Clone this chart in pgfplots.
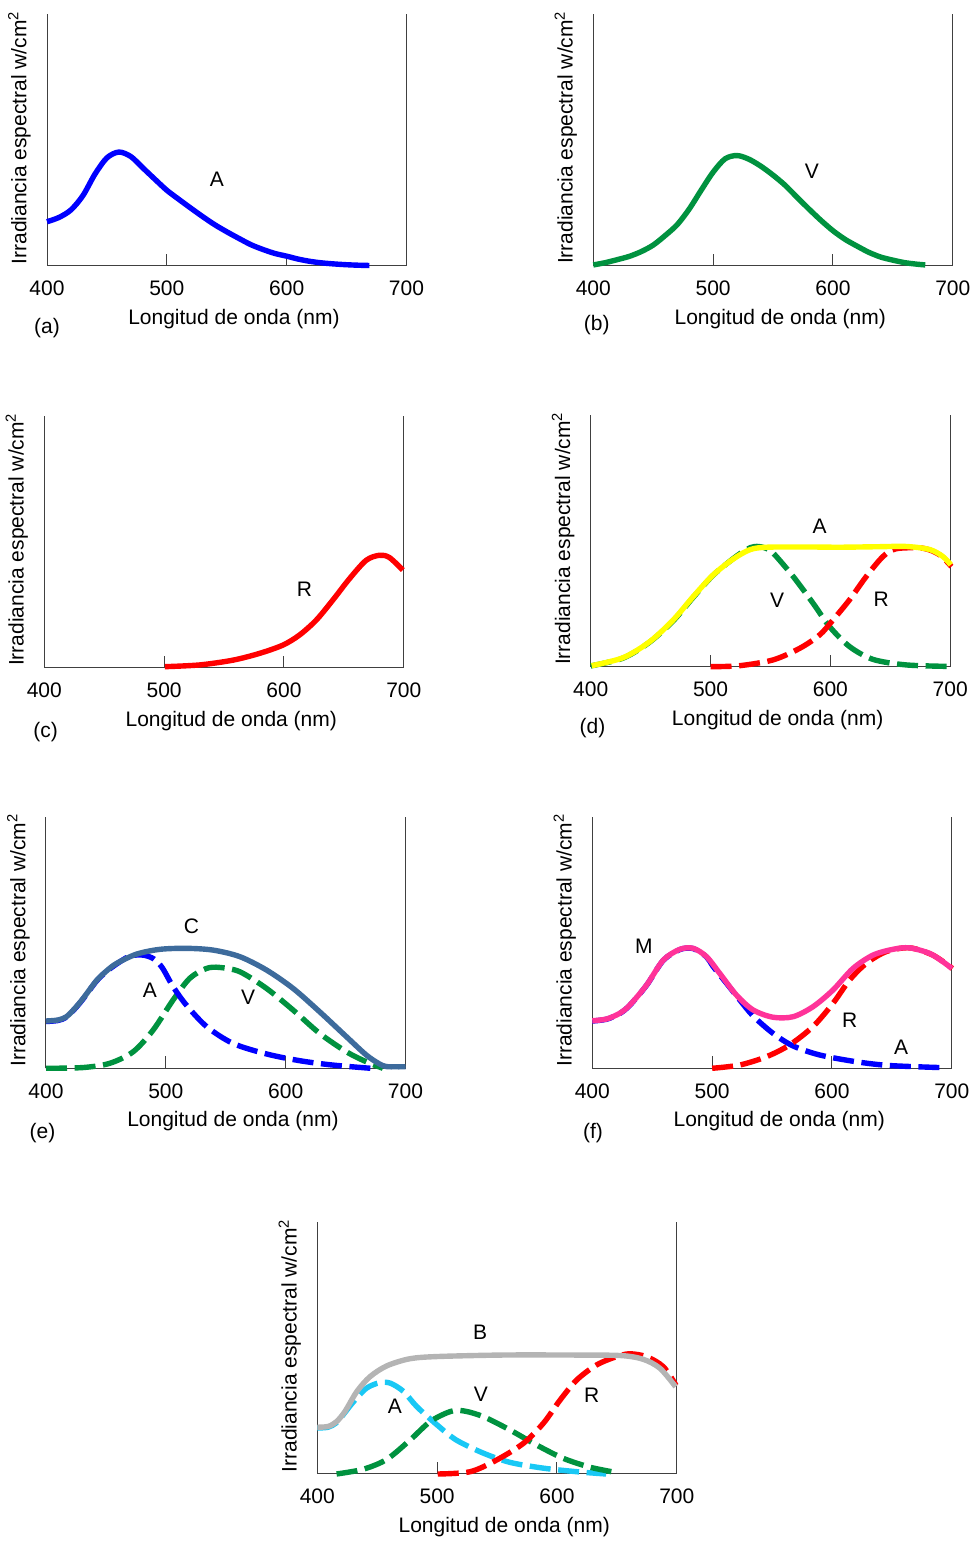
\documentclass[border=0pt]{standalone}
\usepackage{fontspec}
\setmainfont{Liberation Sans}
\usepackage{pgfplots}
\pgfplotsset{compat=1.18}
\definecolor{cblue}{RGB}{0,0,255}
\definecolor{cgreen}{RGB}{0,146,63}
\definecolor{cred}{RGB}{255,0,0}
\definecolor{cyellow}{RGB}{255,255,0}
\definecolor{csteel}{RGB}{61,107,156}
\definecolor{cpink}{RGB}{255,51,153}
\definecolor{cgray}{RGB}{180,180,180}
\definecolor{ccyan}{RGB}{25,200,245}
\pgfplotsset{
  panel/.style={
    scale only axis, width=179.75pt, height=125.75pt,
    xmin=400, xmax=700, ymin=0, ymax=100,
    axis x line*=bottom, axis y line*=box,
    axis line style={line width=0.5pt, black!75},
    xtick={400,500,600,700}, xticklabels={400,500,600,700},
    /pgf/number format/assume math mode=true,
    ytick=\empty,
    tick align=inside, major tick length=6pt,
    tick style={line width=0.5pt, black!75},
    xticklabel style={anchor=center, yshift=-11.25pt},
    xlabel={Longitud de onda (nm)},
    ylabel={Irradiancia espectral w/cm\textsuperscript{2}},
    xlabel style={at={(axis description cs:0.52,-0.2107)}, anchor=center},
    ylabel style={at={(axis description cs:-0.0765,0.51)}, anchor=center},
    clip=false,
    anchor=south west,
  },
  curve/.style={smooth, line width=2.7pt, no markers},
  dcurve/.style={smooth, line width=2.7pt, no markers, dash pattern=on 10.5pt off 3.8pt},
}
\begin{document}
\fontsize{10.5}{12.6}\selectfont
\begin{tikzpicture}
\path[use as bounding box] (0,0) rectangle (489pt,771pt);

% (a)
\begin{axis}[panel, at={(23.5pt,638pt)}]
\addplot[curve, cblue] coordinates {(400,17.6) (410,19.3) (420,22.3) (430,28) (440,36.5) (450,43) (460,45.3) (470,43.5) (480,39) (490,34.5) (500,30.1) (510,26.5) (520,23) (530,19.6) (540,16.4) (550,13.6) (560,11) (570,8.5) (580,6.6) (590,5.0) (600,3.9) (610,2.7) (620,1.8) (630,1.2) (640,0.8) (650,0.5) (660,0.3) (669,0.2)};
\node at (axis cs:541.8,34.3) {A};
\node at (axis description cs:0,-0.2465) {(a)};
\end{axis}

% (b)
\begin{axis}[panel, at={(296.65pt,638.15pt)}]
\addplot[curve, cgreen] coordinates {(400,0.3) (410,1.2) (420,2.4) (430,3.7) (440,5.6) (450,8.2) (460,12) (470,16.3) (480,22.5) (490,30) (500,37.2) (510,42.5) (520,43.8) (530,42.3) (540,39.5) (550,36) (560,32) (570,27.2) (580,22.5) (590,18) (600,13.9) (610,10.5) (620,7.8) (630,5.3) (640,3.4) (650,2.2) (660,1.2) (670,0.6) (677,0.3)};
\node at (axis cs:582.3,37.4) {V};
\node at (axis description cs:0.0095,-0.2358) {(b)};
\end{axis}

% (c)
\begin{axis}[panel, at={(22.15pt,437.15pt)}]
\addplot[curve, cred] coordinates {(500.6,0.4) (529.7,1.1) (557.5,3.0) (579.7,5.7) (599.2,9.0) (613,13.0) (626.9,18.9) (640.8,26.9) (654.7,35.4) (668.6,42.7) (679.7,44.7) (688,43.8) (699.2,38.8)};
\node at (axis cs:617.2,31.1) {R};
\node at (axis description cs:0.004,-0.2545) {(c)};
\end{axis}

% (d)
\begin{axis}[panel, at={(295.35pt,437.65pt)}]
\addplot[dcurve, cgreen] coordinates {(400,0.3) (427,3.4) (449,9.7) (469,18.3) (485.6,27.6) (502,36.3) (519,43) (530,46.6) (537,47.8) (545,47.3) (552.2,45.2) (568.9,35.9) (585.6,25.2) (599.4,15.9) (616,8) (635.6,2.9) (663.3,0.7) (700,0.1)};
\addplot[dcurve, cred] coordinates {(500,0) (524.4,0.4) (552.2,2.7) (574.4,7.3) (591,12.6) (602.2,18.6) (616,26.6) (630,35.9) (643.9,43.8) (655,46.9) (677.2,47.1) (691.1,44.5) (701,39.8)};
\addplot[curve, cyellow] coordinates {(400.8,0.4) (427.2,3.6) (449.4,10) (468.9,18.6) (485.6,27.9) (502.2,36.5) (518.9,42.8) (532.8,46.5) (546.7,47.5) (580,47.6) (607.8,47.5) (640,47.7) (663.3,47.8) (682.8,46.6) (693.9,43.8) (700.5,40.5)};
\node at (axis cs:591.1,56) {A};
\node at (axis cs:555.6,26.6) {V};
\node at (axis cs:642.5,26.8) {R};
\node at (axis description cs:0.005,-0.2437) {(d)};
\end{axis}

% (e)
\begin{axis}[panel, at={(23pt,236.85pt)}]
\addplot[dcurve, cgreen] coordinates {(400,0) (431,0.3) (453.3,2) (472.8,6.6) (489.4,15.2) (506.1,27.2) (520,35.8) (533.9,39.7) (545,40.1) (561.7,38.4) (583.9,31.8) (606.1,23.2) (628.3,13.9) (650.6,6.6) (667.2,2.6) (681.1,0)};
\addplot[dcurve, cblue] coordinates {(400,18.6) (410,19.0) (417,20.3) (424,23.6) (431,27.6) (442,34.6) (450,38.3) (459,41.5) (470,44.6) (481,45) (490,43.5) (497,40) (506,32.5) (517,25.2) (534,16.6) (556,9.9) (584,5.7) (612,3.0) (639,1.3) (671,0)};
\addplot[curve, csteel] coordinates {(400,18.8) (410,19.2) (417,20.5) (424,23.8) (431,27.8) (442,34.8) (450,38.5) (458.9,41.7) (475.6,45.4) (495,47.3) (517.2,47.7) (539.4,47.0) (561.7,44.4) (583.9,39.1) (606.1,31.8) (628.3,22.5) (650.6,12.6) (667.2,5.3) (678,1.8) (684,0.7) (692,0.6) (700,0.6)};
\node at (axis cs:521.4,56.3) {C};
\node at (axis cs:486.7,30.9) {A};
\node at (axis cs:568.6,28.2) {V};
\node at (axis description cs:-0.0097,-0.2573) {(e)};
\end{axis}

% (f)
\begin{axis}[panel, at={(296.15pt,236.85pt)}]
\addplot[dcurve, cblue] coordinates {(400,18.8) (411.9,19.5) (423,21.8) (431.4,25.1) (445.3,33) (459.2,42.9) (473,47.2) (484.2,47.6) (495.3,44.3) (500.8,40.5) (512,33.8) (523,27.2) (534.2,20.8) (550.8,13.9) (567.5,8.9) (589.7,5.3) (620.3,2.6) (648,1.1) (689.7,0.3)};
\addplot[dcurve, cred] coordinates {(500,0) (523,1.3) (545.3,4.6) (564.7,9.3) (584.2,16.6) (600.8,25.8) (614.7,35.1) (628.6,41.7) (645.3,46.4) (664.7,47.9) (684.2,45) (700.5,39.7)};
\addplot[curve, cpink] coordinates {(400,18.9) (411.9,19.6) (423,21.9) (431.4,25.2) (445.3,33.1) (459.2,43) (473,47.3) (484.2,47.7) (495.3,44.4) (506.4,37.7) (520.3,29.1) (534.2,23.2) (550.8,20.3) (567.5,20.5) (584.2,24.5) (600.8,31.1) (617.5,39.7) (634.2,45) (650.8,47.3) (664.7,47.9) (681.4,45.7) (692.5,42.4) (700,39.7)};
\node at (axis cs:443.1,48.7) {M};
\node at (axis cs:614.7,19.2) {R};
\node at (axis cs:657.8,8.3) {A};
\node at (axis description cs:0.002,-0.2573) {(f)};
\end{axis}

% (g)
\begin{axis}[panel, at={(158.65pt,34pt)}]
\addplot[dcurve, ccyan] coordinates {(400,18.3) (409,18.6) (416,20.4) (423,24.4) (430,28.6) (441,34.1) (452,36.3) (461,36.1) (472,32.8) (483,26.8) (500,19.5) (516,13.5) (539,8.2) (561,4.6) (589,2.3) (619,0.8) (641,0)};
\addplot[dcurve, cgreen] coordinates {(416.1,0) (438.4,1.9) (457.9,5.8) (477.4,13.5) (494.1,20.8) (510.8,24.8) (522,25.1) (538.6,22.8) (560.8,17.5) (583.1,11.5) (605.4,6.2) (627.6,2.7) (647.1,0.8)};
\addplot[dcurve, cred] coordinates {(500.5,0) (527.5,0.9) (549.8,5.6) (572,12.2) (588.7,20.2) (602.6,29.4) (616.5,37.4) (633.2,43.4) (649.9,46.7) (661,47.8) (675,46.6) (688.9,42.6) (699.4,35.2)};
\addplot[curve, cgray] coordinates {(400,18.6) (409,18.9) (416,20.8) (423,24.8) (433,32.8) (444,38.7) (458,43) (477,45.8) (500,46.7) (555,47.3) (611,47.3) (653,47.1) (672,45.6) (686,42) (699,34.7)};
\node at (axis cs:535.8,56.2) {B};
\node at (axis cs:464.8,26.8) {A};
\node at (axis cs:536.4,31.7) {V};
\node at (axis cs:629,31.4) {R};
\end{axis}
\end{tikzpicture}
\end{document}
